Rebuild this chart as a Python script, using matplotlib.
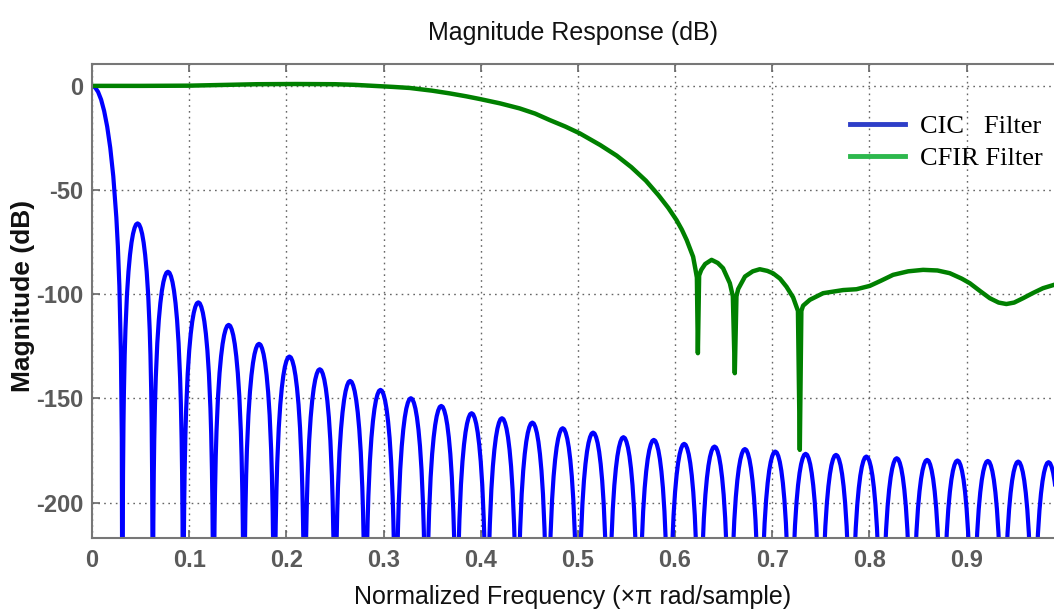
import numpy as np
import matplotlib
matplotlib.use("Agg")
import matplotlib.pyplot as plt
from matplotlib.lines import Line2D
from matplotlib.font_manager import FontProperties

# ---------------- data ----------------
# CIC filter: null frequencies (x pi rad/sample) and sidelobe peak levels (dB)
cic_nulls = [0.0, 0.0313, 0.0625, 0.0938, 0.125, 0.1563, 0.1875, 0.2188, 0.25,
             0.2813, 0.3125, 0.3438, 0.375, 0.4063, 0.4375, 0.4688, 0.5, 0.5313,
             0.5625, 0.5938, 0.625, 0.6563, 0.6875, 0.7188, 0.75, 0.7813, 0.8125,
             0.8438, 0.875, 0.9063, 0.9375, 0.9688, 1.0]
cic_peaks = [-66.0, -89.2, -103.9, -114.7, -123.8, -129.9, -136.0, -141.6, -145.9,
             -149.9, -153.6, -157.1, -159.5, -161.6, -164.3, -166.4, -168.6, -169.9,
             -171.8, -173.1, -174.3, -175.5, -176.6, -177.1, -177.9, -178.7, -179.5,
             -179.8, -180.0, -180.3, -180.6]
# main lobe (0 .. first null): position within lobe and level (dB)
main_pos = [0.0, 0.1, 0.2, 0.3, 0.4, 0.5, 0.6, 0.7, 0.8, 0.85, 0.9, 0.95, 0.98, 1.0]
main_db = [0.0, -0.7, -2.9, -6.6, -12.1, -19.6, -29.7, -43.4, -63.1, -76.9, -96.1,
           -128.0, -169.0, -300.0]
# sidelobe profile: position within lobe and level below the lobe peak (dB)
lobe_pos = [0.0, 0.01, 0.02, 0.035, 0.05, 0.075, 0.1, 0.15, 0.2, 0.25, 0.3, 0.35,
            0.4, 0.45, 0.5, 0.55, 0.6, 0.65, 0.7, 0.75, 0.8, 0.85, 0.9, 0.925,
            0.95, 0.965, 0.98, 0.99, 1.0]
lobe_off = [-300.0, -150.3, -120.2, -96.0, -80.6, -63.2, -51.0, -34.3, -23.1, -15.1,
            -9.2, -5.0, -2.2, -0.5, 0.0, -0.5, -2.2, -5.0, -9.2, -15.1, -23.1, -34.3,
            -51.0, -63.2, -80.6, -96.0, -120.2, -150.3, -300.0]

# CFIR filter
cfir_f = [0.0, 0.05, 0.10, 0.13, 0.17, 0.21, 0.25, 0.27, 0.29, 0.31, 0.327, 0.35,
          0.368, 0.385, 0.399, 0.42, 0.44, 0.456, 0.471, 0.487, 0.502, 0.523, 0.54,
          0.555, 0.57, 0.583, 0.593, 0.6015, 0.607, 0.612, 0.6186, 0.621, 0.6225,
          0.6235, 0.6248, 0.627, 0.631, 0.6376, 0.644, 0.6494, 0.6564, 0.6595,
          0.6615, 0.6632, 0.665, 0.672, 0.68, 0.6872, 0.695, 0.701, 0.708, 0.7147,
          0.7215, 0.7265, 0.7284, 0.730, 0.7318, 0.7387, 0.7524, 0.773, 0.7867,
          0.8004, 0.812, 0.8244, 0.84, 0.8553, 0.87, 0.8827, 0.895, 0.9033, 0.914,
          0.9239, 0.933, 0.941, 0.949, 0.9582, 0.968, 0.9787, 0.99]
cfir_db = [0.0, 0.0, 0.1, 0.4, 0.8, 0.9, 0.8, 0.5, 0.0, -0.5, -1.0, -2.3,
           -3.6, -5.0, -6.3, -8.4, -10.8, -13.3, -16.4, -19.5, -22.8, -28.4, -33.5,
           -39.0, -45.5, -52.5, -58.5, -64.4, -69.0, -74.0, -82.0, -88.0, -92.0,
           -128.3, -91.0, -88.3, -85.5, -83.5, -85.0, -87.5, -94.7, -101.0,
           -137.9, -101.0, -97.5, -91.5, -89.0, -88.0, -88.8, -90.0, -92.5, -96.4,
           -101.5, -108.0, -174.7, -108.0, -105.5, -102.7, -99.5, -98.0, -97.6,
           -96.0, -93.5, -90.7, -89.0, -88.3, -88.6, -89.9, -92.5, -94.7, -98.5,
           -101.9, -104.0, -104.7, -104.0, -101.9, -99.5, -97.1, -95.5]

xticks = [0, 0.1, 0.2, 0.3, 0.4, 0.5, 0.6, 0.7, 0.8, 0.9]
xticklabels = ["0", "0.1", "0.2", "0.3", "0.4", "0.5", "0.6", "0.7", "0.8", "0.9"]
yticks = [0, -50, -100, -150, -200]
yticklabels = ["0", "-50", "-100", "-150", "-200"]

# ---------------- build CIC curve from lobes ----------------
cx, cy = [], []
w0 = cic_nulls[1] - cic_nulls[0]
for p, d in zip(main_pos, main_db):
    cx.append(cic_nulls[0] + p * w0)
    cy.append(d)
for i, pk in enumerate(cic_peaks):
    a, b = cic_nulls[i + 1], cic_nulls[i + 2]
    for p, o in zip(lobe_pos, lobe_off):
        cx.append(a + p * (b - a))
        cy.append(pk + o)

# ---------------- figure ----------------
fig = plt.figure(figsize=(10.54, 6.10), dpi=100)
ax = fig.add_axes([92 / 1054, 1 - 538 / 610, 1 - 92 / 1054, (538 - 64) / 610])

ax.plot(cx, cy, color="#0000ff", lw=3.0, solid_joinstyle="round")
ax.plot(cfir_f, cfir_db, color="#008000", lw=3.2, solid_joinstyle="round")

ax.set_xlim(0, 0.99)
ax.set_ylim(-217, 10.5)
ax.set_xticks(xticks)
ax.set_xticklabels(xticklabels)
ax.set_yticks(yticks)
ax.set_yticklabels(yticklabels)

tick_fp = FontProperties(family="Liberation Sans", weight="bold", size=17)
for lab in ax.get_xticklabels() + ax.get_yticklabels():
    lab.set_fontproperties(tick_fp)
    lab.set_color("#5a5a5a")

ax.tick_params(direction="in", length=6, width=1.2, color="#666666",
               top=True, right=False, pad=6)
ax.tick_params(axis="x", pad=8)
ax.grid(True, color="#666666", linestyle=(0, (1.2, 3)), linewidth=1.0)
ax.set_axisbelow(True)
for s in ["left", "bottom", "top"]:
    ax.spines[s].set_color("#777777")
    ax.spines[s].set_linewidth(1.5)
ax.spines["right"].set_visible(False)

ax.set_title("Magnitude Response (dB)", family="Liberation Sans", size=18,
             color="#111111", pad=17)
ax.set_xlabel("Normalized Frequency (\u00d7\u03c0 rad/sample)", family="Liberation Sans",
              size=18, color="#111111", labelpad=9)
ax.set_ylabel("Magnitude (dB)", family="Liberation Sans", weight="bold", size=19,
              color="#111111")
ax.yaxis.set_label_coords((35 - 92) / 962, 0.51)

handles = [Line2D([], [], color="#2e3ec8", lw=3.5),
           Line2D([], [], color="#2db84d", lw=3.5)]
leg = ax.legend(handles, ["CIC   Filter", "CFIR Filter"], loc="upper left",
                bbox_to_anchor=((850 - 92) / 962, (538 - 115) / 474),
                frameon=False, borderpad=0, borderaxespad=0,
                handlelength=2.1, handletextpad=0.55, labelspacing=0.3,
                prop=dict(family="Liberation Serif", size=19))

fig.savefig("out.png", dpi=100)
